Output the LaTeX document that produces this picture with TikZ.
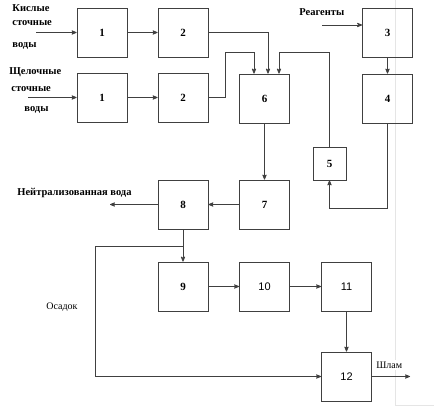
\documentclass[tikz,border=0pt]{standalone}
\usepackage{fontspec}
\setmainfont{Liberation Serif}
\newfontfamily\txtfont{Liberation Serif}
\newfontfamily\numfont{Liberation Sans}
\usetikzlibrary{arrows}
\tikzset{
  block/.style={rectangle,draw=black!75,line width=0.8pt,minimum width=50pt,minimum height=49pt,inner sep=0pt,font=\txtfont\bfseries\fontsize{11}{11}\selectfont},
  sblock/.style={block,minimum width=33pt,minimum height=33pt},
  nblock/.style={block,font=\numfont\fontsize{11}{11}\selectfont},
  label/.style={inner sep=0pt,font=\txtfont\bfseries\fontsize{10.5}{10.5}\selectfont},
  plain/.style={inner sep=0pt,font=\txtfont\fontsize{10}{10}\selectfont}
}

\begin{document}
\begin{tikzpicture}[x=1pt,y=-1pt,->,>=stealth',draw=black!75,line width=0.8pt]
  \useasboundingbox (0,0) rectangle (434,420);
  % page edge
  \draw[-,black!10] (395,0) -- (395,405) -- (434,405);
  % blocks
  \node [block] (a1) at (102,32.5) {1};
  \node [block] (a2) at (183,32.5) {2};
  \node [block] (b1) at (102,97.5) {1};
  \node [block] (b2) at (183,97.5) {2};
  \node [block] (n3) at (387.5,32.5) {3};
  \node [block] (n4) at (387.5,98.5) {4};
  \node [block] (n6) at (264.5,98.5) {6};
  \node [sblock] (n5) at (329.5,163.5) {5};
  \node [block] (n7) at (264.5,204.5) {7};
  \node [block] (n8) at (183,204.5) {8};
  \node [block] (n9) at (183,286.5) {9};
  \node [nblock] (n10) at (264.5,286.5) {10};
  \node [nblock] (n11) at (346.5,286.5) {11};
  \node [nblock] (n12) at (346.5,376.5) {12};
  % free ends and bends
  \coordinate (ina) at (36,32.5);
  \coordinate (inb) at (28,97.5);
  \coordinate (inr) at (322,25);
  \coordinate (j1) at (225,52);
  \coordinate (j2) at (279,52);
  \coordinate (j4) at (95,246);
  \coordinate (outw) at (110,204.5);
  \coordinate (outs) at (410,376.5);
  % labels
  \node [label,anchor=west] (t1) at (12,8.5) {Кислые};
  \node [label,anchor=west] (t2) at (12,23.5) {сточные};
  \node [label,anchor=west] (t3) at (12,46) {воды};
  \node [label,anchor=west] (t4) at (9,72) {Щелочные};
  \node [label,anchor=west] (t5) at (11,89.5) {сточные};
  \node [label,anchor=west] (t6) at (24,110) {воды};
  \node [label,anchor=west] (t7) at (299,12) {Реагенты};
  \node [label,anchor=west] (t8) at (17,193) {Нейтрализованная вода};
  \node [plain,anchor=west] (t9) at (46,307) {Осадок};
  % connectors
  \draw (ina) -- (a1);
  \draw (inb) -- (b1);
  \draw (inr) -- (inr -| n3.west);
  \draw (a1) -- (a2);
  \draw (b1) -- (b2);
  \draw (a2.east) -| ([xshift=3.5pt]n6.north);
  \draw (b2.east) -| (j1) -| ([xshift=-10.5pt]n6.north);
  \draw (n5.north) |- (j2) -- (j2 |- n6.north);
  \draw (n3) -- (n4);
  \draw (n4.south) -- ++(0,85) -| (n5.south);
  \draw (n6) -- (n7);
  \draw (n7) -- (n8);
  \draw (n8) -- (outw);
  \draw (n8) -- (n9);
  \draw (n8.south |- j4) -- (j4) |- (n12.west);
  \draw (n9) -- (n10);
  \draw (n10) -- (n11);
  \draw (n11) -- (n12);
  \draw (n12.east) -- (outs);
  \node [plain,fill=white,inner sep=2pt,anchor=west] (t10) at (374,365) {Шлам};
\end{tikzpicture}
\end{document}
